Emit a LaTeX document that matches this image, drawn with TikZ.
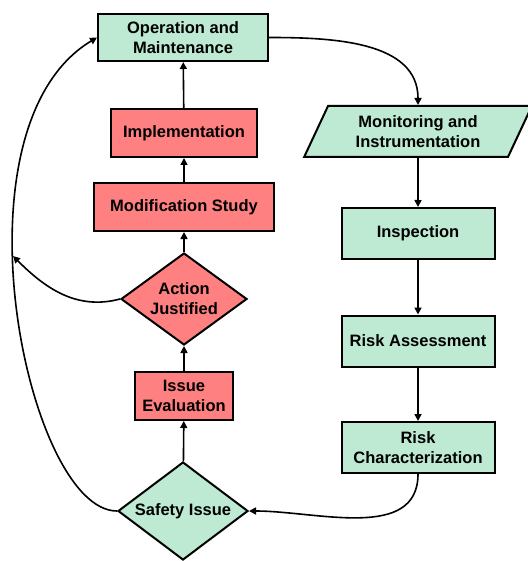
\documentclass[tikz,border=0pt]{standalone}
\usepackage{fontspec}
\setmainfont{Liberation Sans}
\usepackage{tikz}
\usetikzlibrary{arrows.meta}
\usetikzlibrary{positioning}
\usetikzlibrary{shapes.geometric}
\definecolor{okgreen}{RGB}{190,234,212}
\definecolor{fixred}{RGB}{255,128,128}

\begin{document}
\begin{tikzpicture}[x=1pt,y=1pt,every node/.style={draw,line width=2pt,align=center,inner sep=2pt,font=\fontsize{16.5}{20}\selectfont\bfseries},
  okbox/.style={rectangle,fill=okgreen,minimum width=153pt,minimum height=51pt},
  fixbox/.style={rectangle,fill=fixred,minimum height=48pt},
  okdiam/.style={diamond,fill=okgreen,aspect=1.32,inner sep=0pt,minimum width=130pt,minimum height=98pt},
  fixdiam/.style={diamond,fill=fixred,aspect=1.36,inner sep=0pt,minimum width=126pt,minimum height=92pt},
  flow/.style={line width=1.6pt,-{Triangle[length=7pt,width=7pt]}}]
  \useasboundingbox (0,0) rectangle (527,-561);
  % left column, from the bottom up
  \node[okdiam] (safety) at (183,-511) {Safety Issue};
  \node[fixbox,minimum width=98pt] (ie) at (184,-396) {Issue\\Evaluation};
  \node[fixdiam] (aj) at (184,-299) {Action\\Justified};
  \node[fixbox,minimum width=180pt] (ms) at (184,-207) {Modification Study};
  \node[fixbox,minimum width=146pt] (impl) at (184,-133) {Implementation};
  \node[okbox,minimum width=170pt,minimum height=47pt] (om) at (183,-37.5) {Operation and\\Maintenance};
  % right column
  \node[trapezium,trapezium left angle=64.7,trapezium right angle=115.3,trapezium stretches=true,fill=okgreen,minimum width=228pt,minimum height=51pt] (mon) at (418,-131.5) {Monitoring and\\Instrumentation};
  \node[okbox] (insp) at (418,-233.5) {Inspection};
  \node[okbox] (ra) at (418,-341) {Risk Assessment};
  \node[okbox] (rc) at (418,-447.5) {Risk\\Characterization};
  \coordinate (ajback) at (13,-256);
  \draw[flow](safety)--(ie);
  \draw[flow](ie)--(aj);
  \draw[flow](aj)--(ms);
  \draw[flow](ms)--(impl);
  \draw[flow](impl)--(om);
  \draw[flow](mon)--(insp);
  \draw[flow](insp)--(ra);
  \draw[flow](ra)--(rc);
  \draw[flow](om.east) to[out=0,in=90] (mon.north);
  \draw[flow](rc.south) to[out=-90,in=0] (safety.east);
  \draw[flow](safety.west) .. controls +(-90,0) and +(-150,-90) .. (om.west);
  \draw[flow](aj.west) to[out=195,in=-45] (ajback);
\end{tikzpicture}
\end{document}
